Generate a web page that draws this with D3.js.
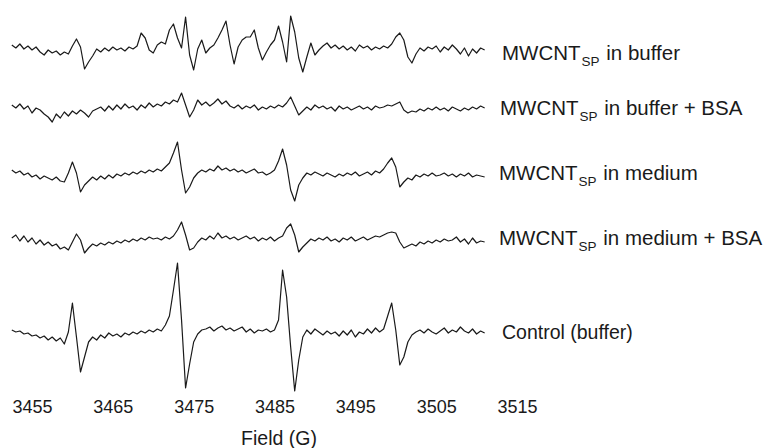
<!DOCTYPE html>
<html>
<head>
<meta charset="utf-8">
<script src="https://cdn.jsdelivr.net/npm/d3@7"></script>
<style>
  html, body { margin: 0; padding: 0; background: #fff; }
  svg { display: block; }
  text { font-family: "Liberation Sans", Arial, Helvetica, sans-serif; fill: #1a1a1a; }
</style>
</head>
<body>
<svg id="chart" width="767" height="448"></svg>
<script>
// ---- data ----
const fieldStart = 3452.5;   // G, first sample
const fieldStep = 0.5;       // G per sample
const tickValues = [3455, 3465, 3475, 3485, 3495, 3505, 3515];
const seriesNames = ["buffer", "bufferBSA", "medium", "mediumBSA", "control"];
const ampBuffer = [
  5, 2, 6, 1, 4, 0, 3, -2, -5, 0,
  -3, -1, -5, -2, -4, 4, 11, 3, -19, -12,
  -6, 1, -2, 2, -1, 3, 0, 2, -1, 3,
  1, 4, 17, 12, 0, -3, 5, 8, 6, 20,
  26, 12, 2, 33, -5, -20, 1, 10, -3, 2,
  5, 12, 20, 29, 5, -14, 3, 10, 13, 13,
  20, 2, -10, -2, 5, 10, 24, 8, -12, 34,
  18, -8, -22, -7, 7, -5, 0, 4, 7, 2,
  5, 1, 4, 0, 3, -1, 5, 2, 4, 0,
  3, 1, 4, 2, 6, 13, 17, 10, -7, -13,
  -4, 2, -1, 3, 1, 4, -2, 3, 0, 5,
  1, -4, 2, -6, 1, -3, 2, 0
];
const ampBufferBSA = [
  3, 0, 4, -1, 2, -5, 0, -2, -6, -9,
  -14, -6, -10, -4, -8, -3, -6, -2, -5, -9,
  -3, -1, 1, -3, 2, -2, 3, -1, 4, 0,
  2, -2, 3, 0, 5, 1, 4, 2, 6, 4,
  8, 6, 15, 3, -9, -2, 8, 3, 6, 2,
  5, 9, 4, 7, 2, 0, 3, -1, 2, 0,
  3, -2, 1, -1, 2, 0, 3, 1, 5, 11,
  2, -7, -3, 1, -2, 3, 0, 2, -1, 1,
  -3, 2, -1, 1, -2, 0, 2, -1, 1, -2,
  2, 0, 1, 3, 2, 4, 6, -2, -5, -3,
  -4, -1, -3, 0, -2, 1, -2, 0, -3, 1,
  -1, -3, 0, -2, 1, -1, 2, 0
];
const ampMedium = [
  5, 2, 4, 0, 2, -2, 0, -4, -1, -3,
  -5, -2, -6, -7, 2, 13, 2, -17, -10, -6,
  -2, -5, -1, -4, 0, -3, 1, -1, 2, 0,
  3, 1, 4, 2, 5, 3, 6, 4, 8, 12,
  22, 33, 5, -18, -12, -3, 2, 5, 3, 6,
  4, 9, 5, 7, 4, 6, 3, 5, 2, 4,
  6, 2, 3, 0, 2, 5, 14, 26, 10, -15,
  -26, -10, -3, 2, 0, 3, 1, -1, 2, 0,
  -2, 1, -1, 2, 0, 3, -1, 1, 3, 0,
  4, 2, 6, 12, 17, 8, -12, -7, -3, -5,
  0, -2, 1, -1, 2, -1, 0, 2, -1, 1,
  -2, 1, -1, 2, -2, 0, -1, -2
];
const ampMediumBSA = [
  2, 5, -1, 4, -2, 2, -4, 0, -5, -2,
  -6, -4, -9, -7, -10, -2, 6, 0, -13, -8,
  -4, -6, -3, -5, -2, -4, -1, -3, 0, -2,
  1, -1, 2, 0, 3, 1, 2, 0, 3, 1,
  4, 10, 18, 5, -10, -8, -2, 2, 0, 4,
  1, 7, 2, 4, 1, 3, 0, 2, 4, 1,
  3, -1, 2, 0, 3, -1, 2, 4, 12, 16,
  5, -12, -7, -3, 1, -1, 2, 0, 3, -1,
  1, -2, 2, 0, 3, -1, 1, 3, 0, 2,
  4, 3, 5, 7, 8, 7, -2, -8, -6, -4,
  -6, -2, -4, -1, -3, 0, -2, 1, -1, 0,
  3, -2, 1, -4, 2, -3, -1, -2
];
const ampControl = [
  2, 0, 1, -2, -1, -4, -3, -6, -4, -8,
  -5, -9, -6, -12, 0, 29, -5, -40, -25, -10,
  -5, -8, -3, -6, -1, -4, -2, -5, -1, -3,
  0, -2, 1, -1, 2, 0, 3, 1, 7, 16,
  42, 69, 12, -56, -32, -10, -2, 2, 3, 5,
  1, 4, 6, 2, 4, 1, 3, 5, 0, 3,
  -1, 2, 1, 3, 0, 2, 12, 62, 35, -15,
  -59, -28, -5, 2, -2, 3, 0, -3, 1, -2,
  0, -4, 1, -3, 2, -5, 0, -2, 3, -1,
  4, 0, 3, 16, 29, 2, -33, -25, -10, -3,
  0, 2, -1, 3, 0, -2, 1, 4, -1, 2,
  0, 5, 1, -1, 3, -2, 1, -1
];
const labelMain = ["MWCNT", "MWCNT", "MWCNT", "MWCNT", "Control (buffer)"];
const labelSub = ["SP", "SP", "SP", "SP", ""];
const labelRest = [" in buffer", " in buffer + BSA", " in medium", " in medium + BSA", ""];

// ---- layout ----
const amps = [ampBuffer, ampBufferBSA, ampMedium, ampMediumBSA, ampControl];
const traceBase = [50, 108, 175, 240, 332];
const labelX = [502, 500, 499, 499, 502];
const labelBase = [60, 115, 180, 245, 339];
const labelSize = [20.5, 20.5, 20.5, 20.5, 19.5];

const svg = d3.select("#chart");
const x = d3.scaleLinear().domain([3455, 3515]).range([32, 517]);
const y = d3.scaleLinear().domain([-100, 100]).range([100, -100]);

const line = d3.line()
  .x((d, i) => x(fieldStart + i * fieldStep))
  .y(d => y(d))
  .curve(d3.curveLinear);

seriesNames.forEach((name, k) => {
  const g = svg.append("g").attr("transform", `translate(0,${traceBase[k]})`);
  g.append("path")
    .datum(amps[k])
    .attr("fill", "none")
    .attr("stroke", "#1a1a1a")
    .attr("stroke-width", 1.2)
    .attr("stroke-linejoin", "round")
    .attr("d", line);

  const t = svg.append("text")
    .attr("x", labelX[k])
    .attr("y", labelBase[k])
    .style("font-size", labelSize[k] + "px");
  t.append("tspan").text(labelMain[k]);
  if (labelSub[k]) {
    t.append("tspan").attr("dy", 6).attr("dx", 1).style("font-size", "13.5px").text(labelSub[k]);
    t.append("tspan").attr("dy", -6).attr("dx", 1).text(labelRest[k]);
  }
});

// x axis: labels only
const axis = d3.axisBottom(x).tickValues(tickValues).tickFormat(d3.format("d")).tickSize(0).tickPadding(0);
const ax = svg.append("g").attr("transform", "translate(0,400)").call(axis);
ax.select(".domain").remove();
ax.selectAll("text")
  .style("font-size", "18px")
  .style("font-family", "'Liberation Sans', Arial, sans-serif")
  .attr("fill", "#1a1a1a");

svg.append("text")
  .attr("x", 279)
  .attr("y", 445)
  .attr("text-anchor", "middle")
  .style("font-size", "19.5px")
  .text("Field (G)");
</script>
</body>
</html>
